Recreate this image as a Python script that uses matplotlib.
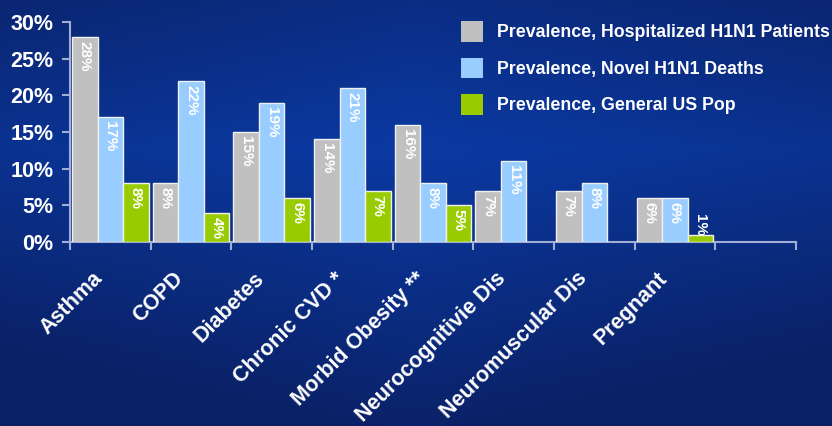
import numpy as np
import matplotlib
matplotlib.use("Agg")
import matplotlib.pyplot as plt
from matplotlib.patches import Patch
from matplotlib.colors import LinearSegmentedColormap
import matplotlib.transforms as mtransforms

categories = ["Asthma", "COPD", "Diabetes", "Chronic CVD *", "Morbid Obesity **",
              "Neurocognitivie Dis", "Neuromuscular Dis", "Pregnant"]
series_names = ["Prevalence, Hospitalized H1N1 Patients",
                "Prevalence, Novel H1N1 Deaths",
                "Prevalence, General US Pop"]
hospitalized = [28, 8, 15, 14, 16, 7, 7, 6]
deaths = [17, 22, 19, 21, 8, 11, 8, 6]
general_pop = [8, 4, 6, 7, 5, None, None, 1]
yticks = [0, 5, 10, 15, 20, 25, 30]

colors = ["#c0c0c0", "#99ccff", "#99cc00"]

plt.rcParams['font.family'] = ['Liberation Sans', 'DejaVu Sans']

W, H = 832, 426
fig = plt.figure(figsize=(W / 100, H / 100), dpi=100)

# background gradient
bg = fig.add_axes([0, 0, 1, 1], zorder=-10)
bg.set_axis_off()
yy, xx = np.mgrid[0:1:200j, 0:1:400j]
v = 1.0 - 0.9 * np.abs(yy - 0.35) * 1.6 - 0.6 * np.abs(xx - 0.5)
v = np.clip(v, 0, 1)
cmap = LinearSegmentedColormap.from_list("bgc", ["#0a2166", "#0b3aa3"])
bg.imshow(v, cmap=cmap, aspect='auto', extent=[0, 1, 0, 1], origin='upper', vmin=0, vmax=1)
bg.set_xlim(0, 1)
bg.set_ylim(0, 1)

ax = fig.add_axes([70 / W, 1 - 242 / H, (796 - 70) / W, (242 - 22) / H])
ax.patch.set_alpha(0)

n_slots = 9
bw = 0.316
series = [hospitalized, deaths, general_pop]
for s_i, vals in enumerate(series):
    for c_i, v_ in enumerate(vals):
        if v_ is None:
            continue
        x = c_i + 0.5 + (s_i - 1) * bw
        ax.bar(x, v_, width=bw, color=colors[s_i], edgecolor="#f0f0f0",
               linewidth=1.0, zorder=3)
        if v_ >= 3:
            off = mtransforms.offset_copy(ax.transData, fig=fig, x=0, y=-4, units='dots')
            va = 'top'
        else:
            off = mtransforms.offset_copy(ax.transData, fig=fig, x=0, y=-1, units='dots')
            va = 'bottom'
        ax.text(x, v_, f"{v_}%", rotation=-90, ha='center', va=va,
                color='white', fontsize=11, fontweight='bold', transform=off, zorder=4)

ax.set_xlim(0, n_slots)
ax.set_ylim(0, 30)
ax.set_yticks(yticks)
ax.set_yticklabels([f"{t}%" for t in yticks])
ax.set_xticks(np.arange(n_slots + 1))
ax.set_xticklabels([])

for sp in ['top', 'right']:
    ax.spines[sp].set_visible(False)
axis_col = "#a0aed6"
for sp in ['left', 'bottom']:
    ax.spines[sp].set_color(axis_col)
    ax.spines[sp].set_linewidth(1.5)
ax.tick_params(axis='both', color=axis_col, width=1.5, length=6)
ax.tick_params(axis='y', labelcolor='white', labelsize=15.5, pad=6)
for lbl in ax.get_yticklabels():
    lbl.set_fontweight('bold')

# category labels
for c_i, name in enumerate(categories):
    tr = mtransforms.offset_copy(ax.get_xaxis_transform(), fig=fig, x=-18, y=-26, units='dots')
    ax.text(c_i + 0.5, 0, name, rotation=45, rotation_mode='anchor', ha='right', va='top',
            color='white', fontsize=15.5, fontweight='bold', transform=tr)

handles = [Patch(facecolor=colors[i], edgecolor='none') for i in range(3)]
leg = fig.legend(handles, series_names, loc='upper left',
                 bbox_to_anchor=(461 / W, 1 - 21 / H), frameon=False,
                 borderpad=0, borderaxespad=0,
                 handlelength=1.25, handleheight=1.42, handletextpad=0.8,
                 labelspacing=0.9, prop={'weight': 'bold', 'size': 12.75})
for t in leg.get_texts():
    t.set_color('white')

fig.savefig("out.png", dpi=100)
